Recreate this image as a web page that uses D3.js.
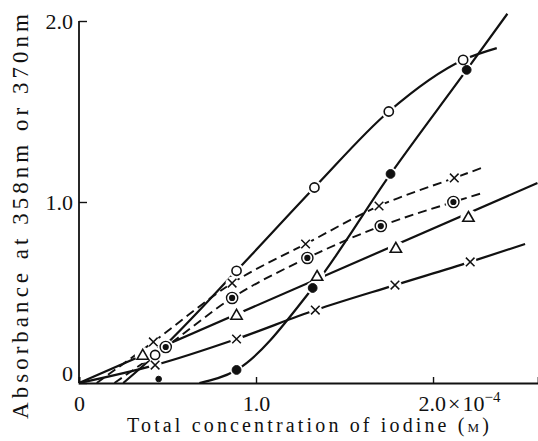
<!DOCTYPE html>
<html>
<head>
<meta charset="utf-8">
<script src="https://cdn.jsdelivr.net/npm/d3@7"></script>
<style>
  html, body { margin: 0; padding: 0; background: #fff; }
  svg { display: block; }
  text { font-family: "Liberation Serif", "DejaVu Serif", serif; fill: #111; }
</style>
</head>
<body>
<svg id="chart" width="538" height="441"></svg>
<script>
// ---- Data ----
// x: total iodine concentration (×10^-4 M), y: absorbance
const xTicks = [0, 1.0, 2.0];
const yTicks = [0, 1.0, 2.0];

// open circles (solid curve)
const openX = [0.43, 0.89, 1.33, 1.75, 2.17];
const openY = [0.155, 0.62, 1.08, 1.50, 1.785];
const openStart = [0.25, 0];
const openEnd = [2.36, 1.85];

// filled circles (solid curve)
const fillX = [0.89, 1.32, 1.76, 2.19];
const fillY = [0.072, 0.525, 1.155, 1.73];
const fillStart = [0.68, 0];
const fillEnd = [2.42, 2.04];
const fillLoneX = [0.45];
const fillLoneY = [0.022];

// crosses (dashed curve, upper)
const crossDX = [0.42, 0.865, 1.28, 1.695, 2.12];
const crossDY = [0.227, 0.552, 0.768, 0.978, 1.133];
const crossDStart = [0.10, 0];
const crossDEnd = [2.28, 1.19];

// dotted circles (dashed curve)
const dotCX = [0.49, 0.865, 1.29, 1.705, 2.115];
const dotCY = [0.199, 0.47, 0.691, 0.867, 1.0];
const dotCStart = [0.20, 0];
const dotCEnd = [2.28, 1.05];

// triangles (solid straight line)
const triX = [0.36, 0.89, 1.345, 1.79, 2.20];
const triY = [0.155, 0.376, 0.591, 0.746, 0.917];
const triStart = [0, 0];
const triEnd = [2.59, 1.105];

// crosses (solid line, lower)
const crossSX = [0.43, 0.89, 1.335, 1.785, 2.21];
const crossSY = [0.099, 0.243, 0.403, 0.541, 0.669];
const crossSStart = [0.0, 0];
const crossSEnd = [2.52, 0.768];

// ---- Chart ----
const svg = d3.select("#chart");
const x = d3.scaleLinear().domain([0, 2.593]).range([79, 538]);
const y = d3.scaleLinear().domain([0, 2]).range([383, 21]);

// axes
const xAxis = d3.axisBottom(x).tickValues(xTicks).tickSize(-6).tickPadding(12)
  .tickFormat(d => d === 0 ? "0" : d.toFixed(1));
const gx = svg.append("g").attr("transform", `translate(0,${y(0)})`).call(xAxis);
gx.select(".domain").attr("stroke", "#111").attr("stroke-width", 1.8);
gx.selectAll(".tick line").attr("stroke", "#111").attr("stroke-width", 1.4);
gx.selectAll(".tick text").attr("font-size", 22).attr("font-family", "Liberation Serif").attr("fill", "#111");
gx.selectAll(".tick").filter(d => d === 2.0).select("text")
  .attr("text-anchor", "start").attr("dx", "-15")
  .call(t => {
    t.text("");
    t.append("tspan").text("2.0");
    t.append("tspan").attr("dx", 2).text("×");
    t.append("tspan").attr("dx", 2).text("10");
    t.append("tspan").attr("font-size", 15).attr("dy", "-0.55em").text("−4");
  });

const yAxis = d3.axisLeft(y).tickValues(yTicks).tickSize(-8).tickPadding(6)
  .tickFormat(d => d === 0 ? "0" : d.toFixed(1));
const gy = svg.append("g").attr("transform", `translate(${x(0)},0)`).call(yAxis);
gy.select(".domain").attr("stroke", "#111").attr("stroke-width", 1.8)
  .attr("d", `M0,${y(0)}V${y(2)}`);
gy.selectAll(".tick line").attr("stroke", "#111").attr("stroke-width", 1.4);
gy.selectAll(".tick text").attr("font-size", 22).attr("font-family", "Liberation Serif").attr("fill", "#111");
gy.selectAll(".tick").filter(d => d === 0).select("text").attr("dy", "-0.1em");

// axis titles
svg.append("text")
  .attr("transform", `translate(28,${(13 + 420) / 2}) rotate(-90)`)
  .attr("text-anchor", "middle")
  .attr("font-size", 23)
  .attr("textLength", 405).attr("lengthAdjust", "spacing")
  .text("Absorbance at 358nm or 370nm");

const xt = svg.append("text")
  .attr("x", 127).attr("y", 432)
  .attr("font-size", 20)
  .attr("textLength", 362).attr("lengthAdjust", "spacing");
xt.append("tspan").text("Total concentration of iodine (");
xt.append("tspan").attr("font-size", 13).text("M");
xt.append("tspan").text(")");

// lines
function pts(start, xs, ys, end) {
  const a = [start];
  xs.forEach((v, i) => a.push([v, ys[i]]));
  if (end) a.push(end);
  return a;
}
const line = d3.line().x(d => x(d[0])).y(d => y(d[1])).curve(d3.curveMonotoneX);
const straight = d3.line().x(d => x(d[0])).y(d => y(d[1]));

const series = [
  { p: pts(openStart, openX, openY, openEnd), dash: null, gen: line },
  { p: pts(fillStart, fillX, fillY, fillEnd), dash: null, gen: line },
  { p: pts(crossDStart, crossDX, crossDY, crossDEnd), dash: "9,5", gen: line },
  { p: pts(dotCStart, dotCX, dotCY, dotCEnd), dash: "9,5", gen: line },
  { p: [triStart, triEnd], dash: null, gen: straight },
  { p: pts(crossSStart, crossSX, crossSY, crossSEnd), dash: null, gen: line },
];
series.forEach(s => {
  svg.append("path").attr("d", s.gen(s.p))
    .attr("fill", "none").attr("stroke", "#111")
    .attr("stroke-width", s.dash ? 1.9 : 2.2)
    .attr("stroke-dasharray", s.dash)
    .attr("stroke-linecap", "butt");
});

// markers with white halo (line gaps)
function halo(xs, ys, r) {
  svg.append("g").selectAll("circle").data(xs).join("circle")
    .attr("cx", d => x(d)).attr("cy", (d, i) => y(ys[i])).attr("r", r).attr("fill", "#fff");
}
halo(openX, openY, 7.5);
halo(fillX, fillY, 6.5);
halo(crossDX, crossDY, 6.5);
halo(dotCX, dotCY, 8);
halo(triX, triY, 8);
halo(crossSX, crossSY, 6.5);

const mk = svg.append("g").attr("stroke", "#111").attr("fill", "none");
// open circles
mk.selectAll(".oc").data(openX).join("circle")
  .attr("cx", d => x(d)).attr("cy", (d, i) => y(openY[i])).attr("r", 4.6).attr("stroke-width", 1.6);
// filled circles
mk.selectAll(".fc").data(fillX).join("circle")
  .attr("cx", d => x(d)).attr("cy", (d, i) => y(fillY[i])).attr("r", 4.4).attr("fill", "#111");
mk.selectAll(".fl").data(fillLoneX).join("circle")
  .attr("cx", d => x(d)).attr("cy", (d, i) => y(fillLoneY[i])).attr("r", 2.8).attr("fill", "#111");
// dotted circles
dotCX.forEach((v, i) => {
  mk.append("circle").attr("cx", x(v)).attr("cy", y(dotCY[i])).attr("r", 5.6).attr("stroke-width", 1.4);
  mk.append("circle").attr("cx", x(v)).attr("cy", y(dotCY[i])).attr("r", 3.1).attr("fill", "#111").attr("stroke", "none");
});
// triangles
const tri = d3.symbol().type(d3.symbolTriangle).size(55);
mk.selectAll(".tr").data(triX).join("path")
  .attr("d", tri)
  .attr("transform", (d, i) => `translate(${x(d)},${y(triY[i]) + 1})`)
  .attr("stroke-width", 1.6);
// crosses
function crosses(xs, ys) {
  const c = d3.symbol().type(d3.symbolX).size(50);
  mk.append("g").selectAll("path").data(xs).join("path")
    .attr("d", c)
    .attr("transform", (d, i) => `translate(${x(d)},${y(ys[i])})`)
    .attr("stroke-width", 1.5);
}
crosses(crossDX, crossDY);
crosses(crossSX, crossSY);
</script>
</body>
</html>
